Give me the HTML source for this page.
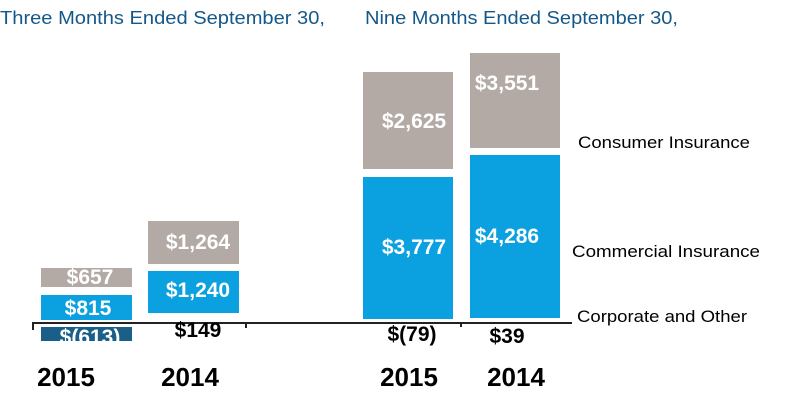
<!DOCTYPE html>
<html><head><style>body{margin:0;background:#fff}svg{display:block}</style></head><body>
<svg width="800" height="409" xmlns="http://www.w3.org/2000/svg" font-family="Liberation Sans, Arial, sans-serif">
<g fill="#14588a" font-size="18">
<text x="0" y="24" textLength="325" lengthAdjust="spacingAndGlyphs">Three Months Ended September 30,</text>
<text x="365" y="24" textLength="313" lengthAdjust="spacingAndGlyphs">Nine Months Ended September 30,</text>
</g>
<g fill="#b3aaa6">
<rect x="41" y="268" width="91" height="19"/>
<rect x="148" y="221" width="91" height="43"/>
<rect x="363" y="72" width="90" height="97"/>
<rect x="470" y="53" width="90" height="95"/>
</g>
<g fill="#0ba0e0">
<rect x="41" y="295" width="91" height="25"/>
<rect x="148" y="271" width="91" height="42"/>
<rect x="363" y="177" width="90" height="142"/>
<rect x="470" y="155" width="90" height="163"/>
</g>
<rect x="41" y="327" width="91" height="14" fill="#1a5f88"/>
<g stroke="#222" stroke-width="2"><line x1="33" y1="323" x2="572" y2="323"/><line x1="33" y1="322" x2="33" y2="330"/><line x1="246" y1="322" x2="246" y2="328"/><line x1="461" y1="322" x2="461" y2="327"/></g>
<g fill="#fff" font-weight="bold" font-size="21" text-anchor="middle">
<text x="90" y="284">$657</text>
<text x="88" y="315">$815</text>
<text x="90" y="344">$(613)</text>
<text x="198" y="249">$1,264</text>
<text x="198" y="297">$1,240</text>
<text x="414" y="128">$2,625</text>
<text x="414" y="254">$3,777</text>
<text x="507" y="90">$3,551</text>
<text x="507" y="243">$4,286</text>
</g>
<g fill="#000" font-weight="bold" font-size="21" text-anchor="middle">
<text x="198" y="337">$149</text>
<text x="412" y="341">$(79)</text>
<text x="507" y="343">$39</text>
</g>
<g fill="#000" font-weight="bold" font-size="26" text-anchor="middle">
<text x="66" y="386">2015</text>
<text x="190" y="386">2014</text>
<text x="409" y="386">2015</text>
<text x="516" y="386">2014</text>
</g>
<g fill="#000" font-size="17">
<text x="578" y="148" textLength="172" lengthAdjust="spacingAndGlyphs">Consumer Insurance</text>
<text x="572" y="257" textLength="188" lengthAdjust="spacingAndGlyphs">Commercial Insurance</text>
<text x="577" y="322" textLength="170" lengthAdjust="spacingAndGlyphs">Corporate and Other</text>
</g>
</svg>
</body></html>
